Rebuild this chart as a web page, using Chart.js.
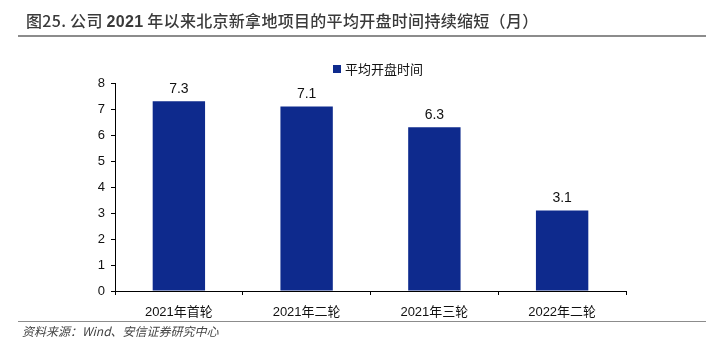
<!DOCTYPE html>
<html>
<head>
<meta charset="utf-8">
<script src="https://cdn.jsdelivr.net/npm/chart.js@4/dist/chart.umd.min.js"></script>
<style>
  html, body { margin: 0; padding: 0; background: #fff; }
  #wrap { position: relative; width: 720px; height: 361px; overflow: hidden; }
  #chart { position: absolute; left: 0; top: 0; }
  .title { position: absolute; left: 26px; top: 8px; font-family: "Noto Sans CJK SC", sans-serif; font-size: 16px; font-weight: 500; letter-spacing: 0.3px; color: #3a3a3a; white-space: nowrap; }
  .title b { font-family: "Liberation Sans", Arial, sans-serif; font-weight: bold; }
  .rule1 { position: absolute; left: 18px; top: 35px; width: 688px; height: 2px; background: #8c8c8c; }
  .rule2 { position: absolute; left: 18px; top: 321px; width: 688px; height: 1px; background: #8c8c8c; }
  .src { position: absolute; left: 22px; top: 322px; font-family: "Noto Sans CJK SC", sans-serif; font-size: 12px; font-style: italic; color: #444; white-space: nowrap; }
  .legend { position: absolute; left: 333px; top: 59px; font-family: "Noto Sans CJK SC", sans-serif; font-size: 13px; color: #111; white-space: nowrap; }
  .legend i { display: inline-block; width: 8px; height: 8px; background: #0e2a8d; margin-right: 4px; vertical-align: 1px; }
</style>
</head>
<body>
<div id="wrap">
  <canvas id="chart" width="720" height="361"></canvas>
  <div class="title">图25. 公司 <b>2021</b> 年以来北京新拿地项目的平均开盘时间持续缩短（月）</div>
  <div class="rule1"></div>
  <div class="legend"><i></i>平均开盘时间</div>
  <div class="rule2"></div>
  <div class="src">资料来源：Wind、安信证券研究中心</div>
</div>
<script>
const categories = ["2021年首轮", "2021年二轮", "2021年三轮", "2022年二轮"];
const openingMonths = [7.3, 7.1, 6.3, 3.1];
const yTicks = [0, 1, 2, 3, 4, 5, 6, 7, 8];

const barColor = "#0e2a8d";
const fontFamily = '"Liberation Sans", Arial, "Noto Sans CJK SC", sans-serif';

// labels above each bar
const valueLabels = {
    id: "valueLabels",
    afterDatasetsDraw(chart) {
        const ctx = chart.ctx;
        const meta = chart.getDatasetMeta(0);
        ctx.save();
        ctx.font = "14px " + fontFamily;
        ctx.fillStyle = "#111";
        ctx.textAlign = "center";
        ctx.textBaseline = "bottom";
        meta.data.forEach((bar, i) => {
            ctx.fillText(openingMonths[i].toFixed(1), bar.x, bar.y - 5);
        });
        ctx.restore();
    }
};

new Chart(document.getElementById("chart"), {
    type: "bar",
    data: {
        labels: categories,
        datasets: [{
            label: "平均开盘时间",
            data: openingMonths,
            backgroundColor: barColor,
            borderWidth: 0,
            categoryPercentage: 1,
            barPercentage: 0.41
        }]
    },
    options: {
        responsive: false,
        animation: false,
        events: [],
        layout: { padding: { left: 0, right: 94, top: 83, bottom: 0 } },
        plugins: {
            legend: { display: false },
            title: { display: false },
            tooltip: { enabled: false }
        },
        scales: {
            x: {
                grid: { drawOnChartArea: false, drawTicks: true, tickLength: 4, color: "#000", offset: true },
                border: { display: true, color: "#000", width: 1 },
                ticks: { color: "#111", font: { size: 13, family: fontFamily }, padding: 10, maxRotation: 0 },
                afterFit(scale) { scale.height = 70; }
            },
            y: {
                min: 0,
                max: 8,
                afterBuildTicks(scale) { scale.ticks = yTicks.map(v => ({ value: v })); },
                grid: { drawOnChartArea: false, drawTicks: true, tickLength: 4, color: "#000" },
                border: { display: true, color: "#000", width: 1 },
                ticks: { color: "#111", font: { size: 13, family: fontFamily }, padding: 6 },
                afterFit(scale) { scale.width = 115; }
            }
        }
    },
    plugins: [valueLabels]
});
</script>
</body>
</html>
